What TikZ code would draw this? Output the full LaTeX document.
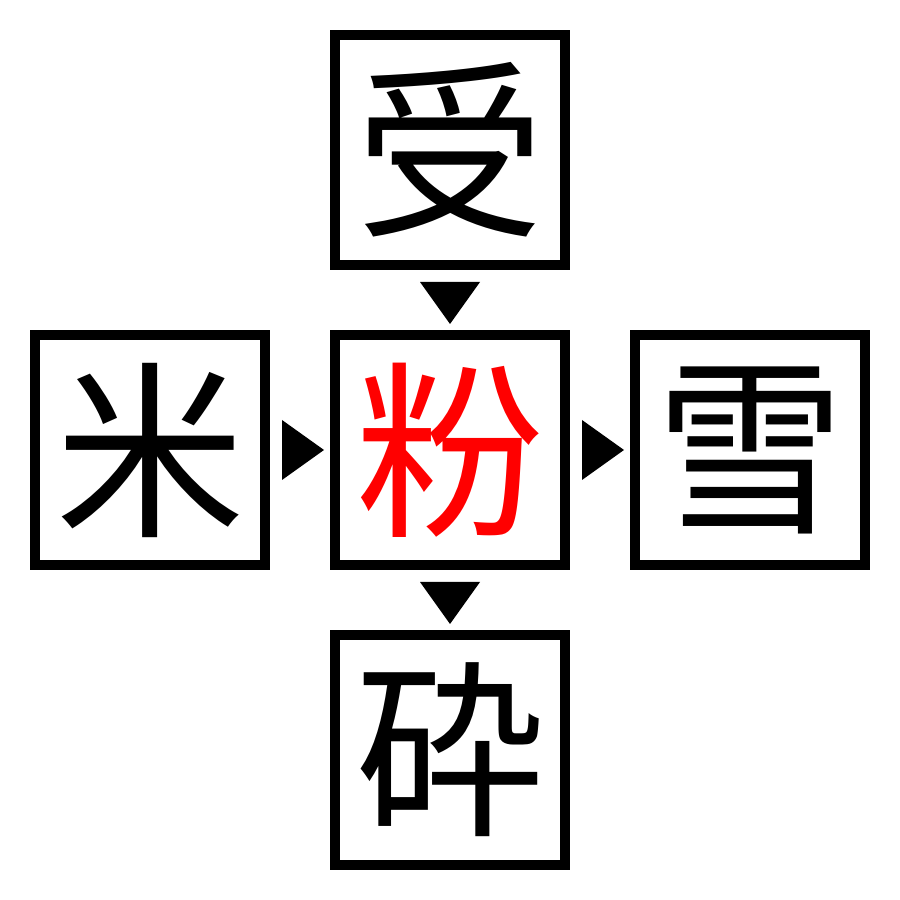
\documentclass[tikz,border=0pt]{standalone}
\usepackage{fontspec}
\newfontfamily\cjk{Noto Sans CJK JP}
\usetikzlibrary{arrows.meta}
\begin{document}
\begin{tikzpicture}[
  charbox/.style={draw=black, line width=0.1cm, outer sep=0.05cm, inner sep=0pt,
    minimum size=2.3cm, font=\cjk\fontsize{54}{54}\selectfont},
  link/.style={draw=white, line width=0.2pt,
    -{Triangle[width=6mm,length=4.2mm,line width=0pt,black]},
    shorten <=0.12cm, shorten >=0.06cm}
]
\useasboundingbox (0,0) rectangle (9,9);
\node[charbox] (top) at (4.5,7.5) {受};
\node[charbox, text=red] (mid) at (4.5,4.5) {粉};
\node[charbox] (left) at (1.5,4.5) {米};
\node[charbox] (right) at (7.5,4.5) {雪};
\node[charbox] (bot) at (4.5,1.5) {砕};
\draw[link] (top.south) -- (mid.north);
\draw[link] (mid.south) -- (bot.north);
\draw[link] (left.east) -- (mid.west);
\draw[link] (mid.east) -- (right.west);
\end{tikzpicture}
\end{document}
